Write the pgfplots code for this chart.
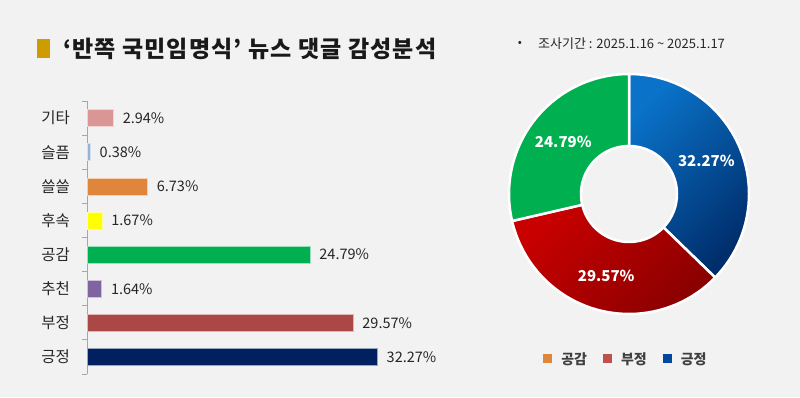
\documentclass[border=0pt]{standalone}
\usepackage{pgfplots}
\pgfplotsset{compat=1.18}
\usepackage{pgfplotstable}
\usepackage{fontspec}
\setmainfont{Noto Sans CJK KR}
\usetikzlibrary{calc}
\definecolor{bg}{HTML}{F2F2F2}
\definecolor{gold}{HTML}{CC9C00}
\definecolor{txt}{HTML}{262626}
\definecolor{axisgrey}{HTML}{A6A6A6}
\definecolor{cEtc}{HTML}{D99694}
\definecolor{cSad}{HTML}{95B3D7}
\definecolor{cLonely}{HTML}{E0863C}
\definecolor{cFollow}{HTML}{FFFF00}
\definecolor{cEmp}{HTML}{00B050}
\definecolor{cRec}{HTML}{8064A2}
\definecolor{cNeg}{HTML}{AB4845}
\definecolor{cPos}{HTML}{002060}
\definecolor{blueA}{HTML}{0A72C8}
\definecolor{blueB}{HTML}{002E6C}
\definecolor{redA}{HTML}{C80000}
\definecolor{redB}{HTML}{880000}
\definecolor{legOrange}{HTML}{E0863C}
\definecolor{legRed}{HTML}{C0504D}
\definecolor{legBlue}{HTML}{0047A0}
\definecolor{legtext}{HTML}{404040}
\pgfplotstableread{
value
32.27
29.57
24.79
}\donutdata
\begin{document}
\begin{tikzpicture}
\fill[bg] (0pt,0pt) rectangle (800pt,397pt);
\fill[gold] (37pt,339pt) rectangle (50pt,358pt);
\node[anchor=west, inner sep=0pt, font=\bfseries\fontsize{23}{23}\selectfont\addfontfeature{LetterSpace=5}, text=black!90] at (63pt,348pt) {‘반쪽 국민임명식’ 뉴스 댓글 감성분석};
\node[inner sep=0pt, font=\fontsize{12}{12}\selectfont, text=txt] at (520pt,353pt) {•};
\node[anchor=west, inner sep=0pt, font=\fontsize{13}{13}\selectfont, text=txt] at (538pt,353pt) {조사기간 : 2025.1.16 \textasciitilde{} 2025.1.17};

\pgfplotstablegetelem{0}{value}\of\donutdata \let\vA\pgfplotsretval
\pgfplotstablegetelem{1}{value}\of\donutdata \let\vB\pgfplotsretval
\pgfplotstablegetelem{2}{value}\of\donutdata \let\vC\pgfplotsretval
\pgfmathsetmacro\tot{\vA+\vB+\vC}
\def\aA{90}
\pgfmathsetmacro\aB{90-360*\vA/\tot}
\pgfmathsetmacro\aC{\aB-360*\vB/\tot}
\def\aD{-270}
\pgfmathsetmacro\mA{(\aA+\aB)/2}
\pgfmathsetmacro\mB{(\aB+\aC)/2}
\pgfmathsetmacro\mC{(\aC+\aD)/2}

\begin{axis}[
  at={(87pt,23pt)}, anchor=south west, scale only axis,
  width=360pt, height=273pt,
  xbar, bar width=17pt, bar shift=0pt,
  xmin=0, xmax=40, ymin=-0.5, ymax=7.5,
  axis x line=none, axis y line*=left,
  ytick={0,...,7},
  yticklabels={긍정,부정,추천,공감,후속,쓸쓸,슬픔,기타},
  minor ytick={-0.5,0.5,...,7.5},
  major tick length=0pt, minor tick length=5pt, tick align=outside,
  y axis line style={draw=axisgrey, line width=0.8pt},
  minor tick style={draw=axisgrey, line width=0.8pt},
  yticklabel style={font=\fontsize{15.5}{15.5}\selectfont, text=txt, inner sep=0pt, xshift=-17pt},
  /pgf/number format/assume math mode=true,
  nodes near coords={\pgfmathprintnumber[fixed,precision=2,fixed zerofill]{\pgfplotspointmeta}\%},
  nodes near coords style={font=\fontsize{14.5}{14.5}\selectfont, text=txt, anchor=west, inner sep=0pt, xshift=9pt},
  point meta=x,
  clip=false,
]
\addplot[fill=cPos, draw=white!60!cPos, line width=0.6pt] coordinates {(32.27,0)};
\addplot[fill=cNeg, draw=white!60!cNeg, line width=0.6pt] coordinates {(29.57,1)};
\addplot[fill=cRec, draw=white!60!cRec, line width=0.6pt] coordinates {(1.64,2)};
\addplot[fill=cEmp, draw=white!60!cEmp, line width=0.6pt] coordinates {(24.79,3)};
\addplot[fill=cFollow, draw=white!60!cFollow, line width=0.6pt] coordinates {(1.67,4)};
\addplot[fill=cLonely, draw=white!60!cLonely, line width=0.6pt] coordinates {(6.73,5)};
\addplot[fill=cSad, draw=white!60!cSad, line width=0.6pt] coordinates {(0.38,6)};
\addplot[fill=cEtc, draw=white!60!cEtc, line width=0.6pt] coordinates {(2.94,7)};
\end{axis}

\begin{axis}[
  at={(509pt,83pt)}, anchor=south west, scale only axis,
  width=240pt, height=240pt,
  xmin=-1, xmax=1, ymin=-1, ymax=1,
  hide axis, clip=false,
  legend style={at={(0.483,-0.187)}, anchor=center, draw=none, fill=none,
    legend columns=3, font=\bfseries\fontsize{14}{14}\selectfont, text=legtext,
    nodes={inner sep=0pt},
    /tikz/every odd column/.append style={column sep=9pt},
    /tikz/every even column/.append style={column sep=16pt}},
  legend image code/.code={\fill[#1] (0pt,-4.5pt) rectangle (9pt,4.5pt);},
]
\addlegendimage{fill=legOrange, draw=none}
\addlegendentry{공감}
\addlegendimage{fill=legRed, draw=none}
\addlegendentry{부정}
\addlegendimage{fill=legBlue, draw=none}
\addlegendentry{긍정}
\path[top color=blueA, bottom color=blueB, shading angle=45, draw=white, line width=2.5pt, line join=round]
  ($(axis cs:0,0)+(\aA:120pt)$) arc[start angle=\aA, end angle=\aB, radius=120pt]
  -- ($(axis cs:0,0)+(\aB:48pt)$) arc[start angle=\aB, end angle=\aA, radius=48pt] -- cycle;
\path[top color=redA, bottom color=redB, shading angle=45, draw=white, line width=2.5pt, line join=round]
  ($(axis cs:0,0)+(\aB:120pt)$) arc[start angle=\aB, end angle=\aC, radius=120pt]
  -- ($(axis cs:0,0)+(\aC:48pt)$) arc[start angle=\aC, end angle=\aB, radius=48pt] -- cycle;
\path[fill=cEmp, draw=white, line width=2.5pt, line join=round]
  ($(axis cs:0,0)+(\aC:120pt)$) arc[start angle=\aC, end angle=\aD, radius=120pt]
  -- ($(axis cs:0,0)+(\aD:48pt)$) arc[start angle=\aD, end angle=\aC, radius=48pt] -- cycle;
\node[text=white, font=\bfseries\fontsize{15}{15}\selectfont] at ($(axis cs:0,0)+(\mA:84pt)$) {\pgfmathprintnumber[fixed,precision=2,fixed zerofill,assume math mode=true]{\vA}\%};
\node[text=white, font=\bfseries\fontsize{15}{15}\selectfont] at ($(axis cs:0,0)+(\mB:85pt)$) {\pgfmathprintnumber[fixed,precision=2,fixed zerofill,assume math mode=true]{\vB}\%};
\node[text=white, font=\bfseries\fontsize{15}{15}\selectfont] at ($(axis cs:0,0)+(\mC:84pt)$) {\pgfmathprintnumber[fixed,precision=2,fixed zerofill,assume math mode=true]{\vC}\%};
\end{axis}
\pgfresetboundingbox
\useasboundingbox (0pt,0pt) rectangle (800pt,397pt);
\end{tikzpicture}
\end{document}
